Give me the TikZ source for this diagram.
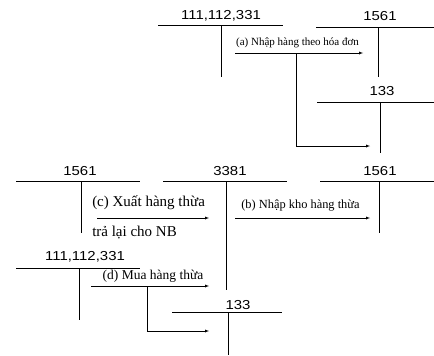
\documentclass[tikz,border=0pt]{standalone}
\usepackage{fontspec}
\setmainfont{Liberation Serif}
\newfontfamily\acctfont[FakeStretch=1.15]{Liberation Sans}
\usetikzlibrary{arrows}

\tikzset{
  acct/.style={font=\acctfont\fontsize{13}{15}\selectfont, inner sep=0pt},
  lbl/.style={font=\fontsize{11}{13}\selectfont, inner sep=0pt},
  biglbl/.style={font=\fontsize{15}{17}\selectfont, inner sep=0pt},
  flow/.style={-latex, line width=0.4pt}
}

\begin{document}
\begin{tikzpicture}[x=1pt,y=-1pt,line width=0.5pt]
        \useasboundingbox (0,0) rectangle (434,356);
        % upper accounts
        \node[acct] (tienA) at (221,16) {111,112,331};
        \draw (158,25) -- (283,25);
        \draw (221,25) -- (221,77);
        \node[acct] (khoA) at (380,16) {1561};
        \draw (316,27) -- (434,27);
        \draw (378,27) -- (378,77);
        \node[acct] (thueA) at (382,91) {133};
        \draw (317,102) -- (434,102);
        \draw (380,102) -- (380,153);
        % (a)
        \coordinate (a1) at (235,53);
        \coordinate (a2) at (363,53);
        \coordinate (a3) at (296,53);
        \coordinate (a4) at (370,146);
        \draw[flow] (a1) -- (a2);
        \draw[flow] (a3) |- (a4);
        \node[lbl] (la) at (297.5,43) {(a) Nhập hàng theo hóa đơn};
        % middle accounts
        \node[acct] (khoB) at (80,171) {1561};
        \draw (16,181) -- (140,181);
        \draw (81,181) -- (81,233);
        \node[acct] (thua) at (230,171) {3381};
        \draw (163,181) -- (287,181);
        \draw (226,181) -- (226,290);
        \node[acct] (khoC) at (380,171) {1561};
        \draw (320,181) -- (434,181);
        \draw (379,181) -- (379,233);
        % (c) and (b)
        \coordinate (c1) at (97,218);
        \coordinate (c2) at (209,218);
        \draw[flow] (c1) -- (c2);
        \node[biglbl,anchor=west] (lc1) at (92,203) {(c) Xuất hàng thừa};
        \node[biglbl,anchor=west] (lc2) at (92,233) {trả lại cho NB};
        \coordinate (b1) at (235,218);
        \coordinate (b2) at (370,218);
        \draw[flow] (b1) -- (b2);
        \node[lbl,font=\fontsize{12.4}{14}\selectfont] (lb) at (300.5,206) {(b) Nhập kho hàng thừa};
        % lower accounts
        \node[acct] (tienB) at (85,257) {111,112,331};
        \draw (16,268) -- (140,268);
        \draw (79,268) -- (79,320);
        \node[acct] (thueB) at (238,305) {133};
        \draw (172,312) -- (282,312);
        \draw (228,312) -- (228,355);
        % (d)
        \coordinate (d1) at (91,286);
        \coordinate (d2) at (209,286);
        \coordinate (d3) at (147,286);
        \coordinate (d4) at (209,331);
        \draw[flow] (d1) -- (d2);
        \draw[flow] (d3) |- (d4);
        \node[lbl,font=\fontsize{13.5}{15}\selectfont] (ld) at (153,276) {(d) Mua hàng thừa};
    \end{tikzpicture}
\end{document}
